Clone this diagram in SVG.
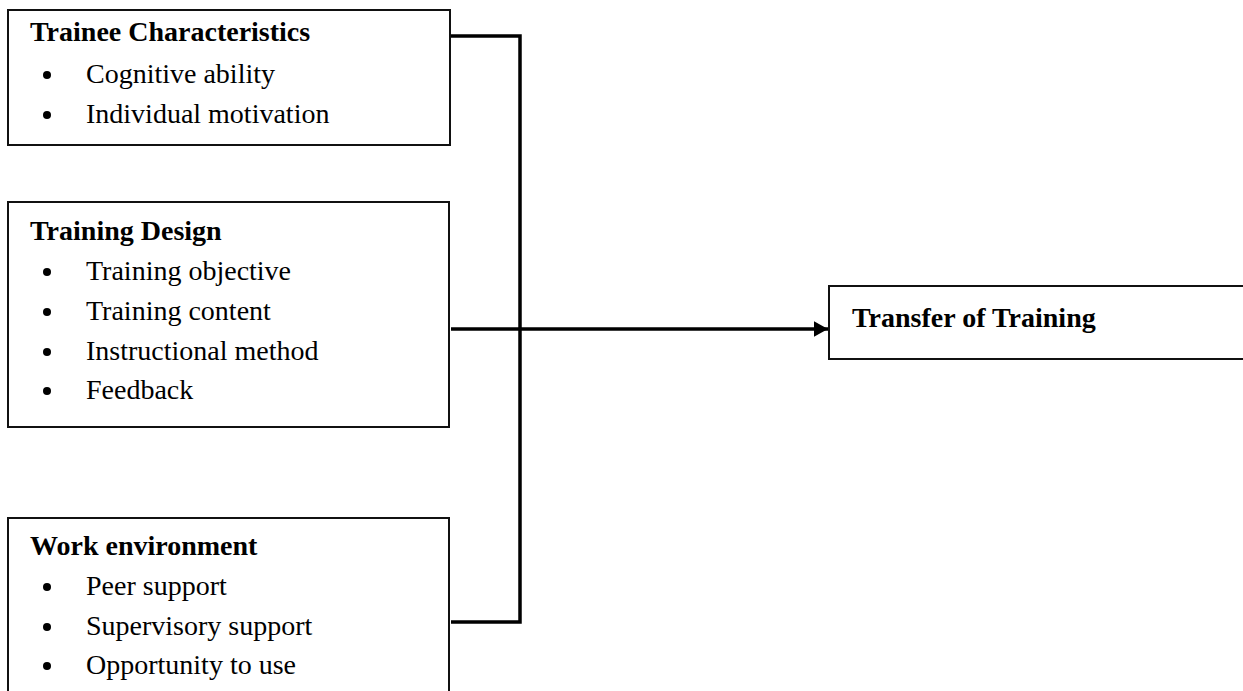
<svg xmlns="http://www.w3.org/2000/svg" width="1243" height="691" viewBox="0 0 1243 691">
<style>
.box{fill:#fff;stroke:#111;stroke-width:2}
.t{font-family:"Liberation Serif","Times New Roman",serif;font-size:28px;fill:#000}
.b{font-weight:bold}
.dot{fill:#000}
.conn{fill:none;stroke:#000;stroke-width:3.5}
</style>
<defs>
<marker id="arr" markerWidth="5" markerHeight="5" refX="4" refY="2.2" orient="auto" markerUnits="strokeWidth">
<path d="M0,0 L4,2.2 L0,4.4 Z" fill="#000"/>
</marker>
</defs>
<rect width="1243" height="691" fill="#fff"/>
<g id="trainee">
<rect class="box" x="8" y="10" width="442" height="135"/>
<text class="t b" x="30" y="41">Trainee Characteristics</text>
<circle class="dot" cx="47" cy="75" r="4"/>
<text class="t" x="86" y="83">Cognitive ability</text>
<circle class="dot" cx="47" cy="115" r="4"/>
<text class="t" x="86" y="123">Individual motivation</text>
</g>
<g id="design">
<rect class="box" x="8" y="202" width="441" height="225"/>
<text class="t b" x="30" y="240">Training Design</text>
<circle class="dot" cx="47" cy="272" r="4"/>
<text class="t" x="86" y="280">Training objective</text>
<circle class="dot" cx="47" cy="312" r="4"/>
<text class="t" x="86" y="320">Training content</text>
<circle class="dot" cx="47" cy="352" r="4"/>
<text class="t" x="86" y="360">Instructional method</text>
<circle class="dot" cx="47" cy="391" r="4"/>
<text class="t" x="86" y="399">Feedback</text>
</g>
<g id="environment">
<rect class="box" x="8" y="518" width="441" height="190"/>
<text class="t b" x="30" y="555">Work environment</text>
<circle class="dot" cx="47" cy="587" r="4"/>
<text class="t" x="86" y="595">Peer support</text>
<circle class="dot" cx="47" cy="627" r="4"/>
<text class="t" x="86" y="635">Supervisory support</text>
<circle class="dot" cx="47" cy="666" r="4"/>
<text class="t" x="86" y="674">Opportunity to use</text>
</g>
<g id="transfer">
<rect class="box" x="829" y="286" width="430" height="73"/>
<text class="t b" x="852" y="327">Transfer of Training</text>
</g>
<g id="connectors">
<path class="conn" d="M451,36 H520 V622 H451"/>
<path class="conn" d="M451,329 H828" marker-end="url(#arr)"/>
</g>
</svg>
